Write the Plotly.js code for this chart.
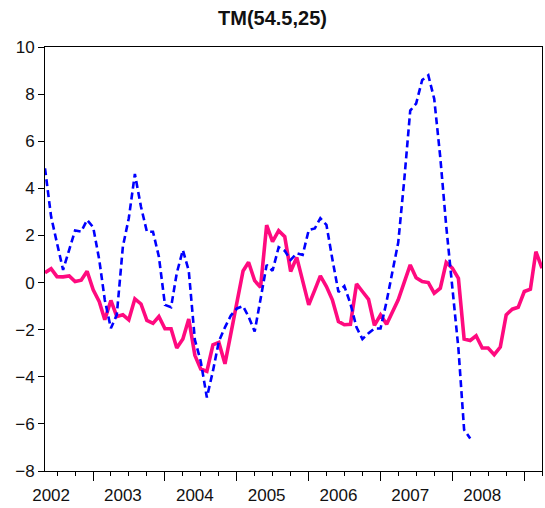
<!DOCTYPE html>
<html>
<head>
<meta charset="utf-8">
<script src="https://cdn.plot.ly/plotly-3.0.1.min.js"></script>
<style>
  html, body { margin: 0; padding: 0; background: #ffffff; }
  #chart { width: 545px; height: 508px; }
</style>
</head>
<body>
<div id="chart"></div>
<script>
// Monthly series, first observation 2002M05
const startYear = 2002;
const startMonth = 5;

// Solid magenta series (2002M05 - 2009M04)
const seriesSolid = [
  0.42, 0.59, 0.25, 0.24, 0.28, 0.04, 0.10, 0.48,
  -0.31, -0.81, -1.58, -0.76, -1.44, -1.37, -1.58, -0.69, -0.91, -1.61, -1.73, -1.44, -1.96, -1.96,
  -2.78, -2.40, -1.55, -3.09, -3.67, -3.77, -2.64, -2.54, -3.45, -2.22, -0.81, 0.49,
  0.86, 0.08, -0.20, 2.44, 1.74, 2.20, 1.95, 0.47, 1.07, 0.04, -0.95, -0.31,
  0.28, -0.17, -0.73, -1.65, -1.79, -1.77, -0.06, -0.38, -0.71, -1.82, -1.37, -1.77,
  -1.26, -0.73, 0.00, 0.75, 0.20, 0.04, 0.00, -0.45, -0.24, 0.85, 0.61, 0.18,
  -2.40, -2.46, -2.26, -2.78, -2.78, -3.06, -2.74, -1.37, -1.13, -1.05, -0.38, -0.28,
  1.31, 0.61
];

// Dashed blue series (2002M05 - 2008M04)
const seriesDashed = [
  4.85, 2.80, 1.67, 0.54, 1.39, 2.21, 2.16, 2.66,
  2.35, 0.96, -0.74, -1.94, -1.37, 1.53, 2.73, 4.61, 3.22, 2.16, 2.16, 1.10, -0.95, -1.05,
  0.40, 1.38, 0.50, -2.43, -3.35, -4.88, -3.75, -2.50, -1.90, -1.40, -1.10, -1.00,
  -1.45, -2.08, -0.70, 0.75, 0.50, 1.50, 1.35, 0.96, 1.24, 1.17, 2.23, 2.30,
  2.73, 2.45, 1.00, -0.40, -0.15, -0.90, -1.90, -2.40, -2.15, -1.95, -1.95, -0.80,
  0.40, 1.70, 4.30, 7.30, 7.60, 8.60, 8.80, 7.80, 5.30, 2.40, -0.20, -2.80,
  -6.25, -6.62
];

// Year labels on the time axis
const yearLabels = ['2002', '2003', '2004', '2005', '2006', '2007', '2008'];
// Year boundaries (long tick marks)
const yearBoundaries = ['2003', '2004', '2005', '2006', '2007', '2008', '2009'];

const chartTitle = 'TM(54.5,25)';

function monthDate(offset) {
  const total = (startMonth - 1) + offset;
  const y = startYear + Math.floor(total / 12);
  const m = (total % 12) + 1;
  return y + '-' + String(m).padStart(2, '0') + '-01';
}

const datesSolid = seriesSolid.map((_, i) => monthDate(i));
const datesDashed = seriesDashed.map((_, i) => monthDate(i));
const xRange = [datesSolid[0], datesSolid[datesSolid.length - 1]];

const fontFamily = 'Liberation Sans, Arial, sans-serif';
const tickFont = { family: fontFamily, size: 17, color: '#111111' };

const traces = [
  {
    x: datesSolid,
    y: seriesSolid,
    xaxis: 'x',
    yaxis: 'y',
    type: 'scatter',
    mode: 'lines',
    line: { color: '#ff0a7f', width: 3.6 },
    hoverinfo: 'x+y'
  },
  {
    x: datesDashed,
    y: seriesDashed,
    xaxis: 'x2',
    yaxis: 'y',
    type: 'scatter',
    mode: 'lines',
    line: { color: '#0000ff', width: 2.6, dash: '7px,4px' },
    hoverinfo: 'x+y'
  }
];

const layout = {
  width: 545,
  height: 508,
  margin: { l: 45, r: 3, t: 47, b: 37 },
  paper_bgcolor: '#ffffff',
  plot_bgcolor: '#ffffff',
  showlegend: false,
  title: {
    text: chartTitle,
    font: { family: fontFamily, size: 20, weight: 'bold', color: '#111111' },
    xref: 'container',
    x: 0.5,
    xanchor: 'center',
    yref: 'container',
    y: 1 - 18 / 508,
    yanchor: 'middle'
  },
  xaxis: {
    type: 'date',
    range: xRange,
    tickmode: 'array',
    tickvals: yearBoundaries.map(y => y + '-01-01'),
    ticks: 'outside',
    ticklen: 9,
    tickwidth: 1,
    tickcolor: '#000000',
    showticklabels: false,
    minor: {
      tickmode: 'linear',
      tick0: '2002-01-01',
      dtick: 'M3',
      ticks: 'outside',
      ticklen: 4,
      tickwidth: 1,
      tickcolor: '#000000',
      showgrid: false
    },
    showgrid: false,
    zeroline: false,
    showline: true,
    linecolor: '#000000',
    linewidth: 1,
    mirror: true
  },
  xaxis2: {
    type: 'date',
    overlaying: 'x',
    anchor: 'y',
    side: 'bottom',
    range: xRange,
    tickmode: 'array',
    tickvals: yearLabels.map(y => y + '-06-01'),
    ticktext: yearLabels,
    ticks: 'outside',
    ticklen: 9,
    tickcolor: 'rgba(0,0,0,0)',
    tickfont: tickFont,
    showgrid: false,
    zeroline: false,
    showline: false
  },
  yaxis: {
    range: [-8, 10],
    tickmode: 'linear',
    tick0: -8,
    dtick: 2,
    ticks: 'outside',
    ticklen: 6,
    tickwidth: 1,
    tickcolor: '#000000',
    tickfont: tickFont,
    showgrid: false,
    zeroline: false,
    showline: true,
    linecolor: '#000000',
    linewidth: 1,
    mirror: true
  }
};

Plotly.newPlot('chart', traces, layout, { displayModeBar: false, staticPlot: true });
</script>
</body>
</html>
